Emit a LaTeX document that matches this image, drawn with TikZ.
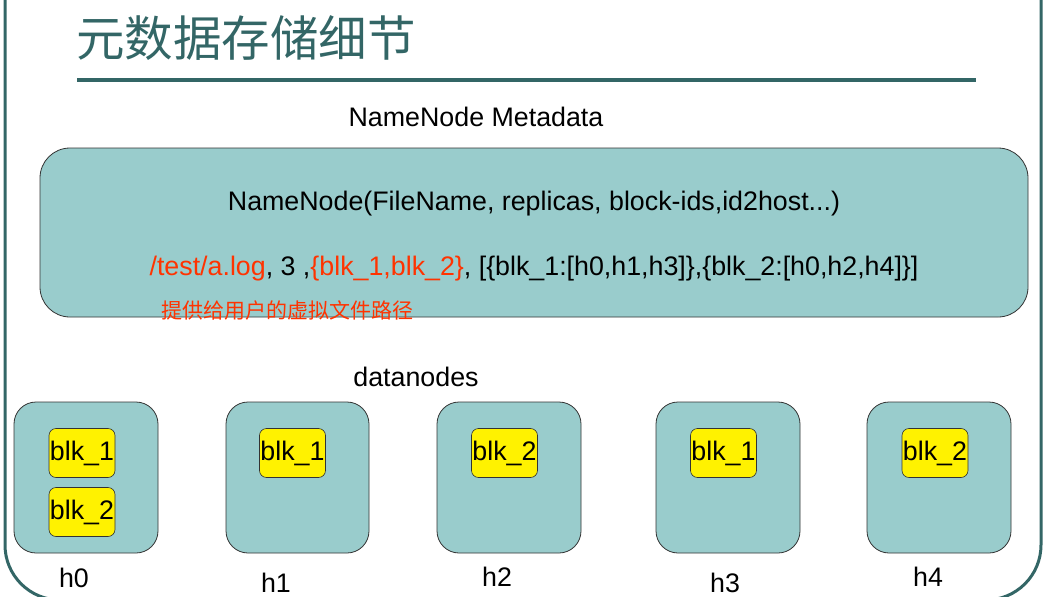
\documentclass[tikz,border=0pt]{standalone}
\usepackage{fontspec}
\setmainfont{Liberation Sans}
\newfontfamily\cjk{Noto Sans CJK SC}
\definecolor{frame}{HTML}{336666}
\definecolor{boxfill}{HTML}{99CCCC}
\definecolor{redtxt}{HTML}{FF3300}
\begin{document}
\begin{tikzpicture}[x=1pt,y=-1pt,
  txt/.style={anchor=base,inner sep=0pt,font=\fontsize{26.8}{30}\selectfont},
  bigbox/.style={draw=black!80,fill=boxfill,rounded corners=30pt,line width=0.8pt},
  dnbox/.style={draw=black!80,fill=boxfill,rounded corners=22pt,line width=0.8pt},
  blk/.style={draw=black!80,fill=yellow,rounded corners=7pt,line width=0.6pt,inner sep=0pt,minimum width=66pt,minimum height=49pt,font=\fontsize{26.8}{30}\selectfont}]
\useasboundingbox (0,0) rectangle (1053,597);
\begin{scope}
\clip (0,0) rectangle (1053,597);
\draw[frame,line width=3pt,rounded corners=55pt] (5,-20) -- (5,600) -- (1041,600) -- (1041,-20);
\end{scope}
\node[anchor=base west,inner sep=0pt,text=frame,font=\cjk\fontsize{48.5}{50}\selectfont] (title) at (76,56) {元数据存储细节};
\draw[frame,line width=4pt] (77,80) -- (976,80);
\node[txt] (meta) at (476,126) {NameNode Metadata};
\draw[bigbox] (40,148) rectangle (1028,317);
\node[txt] (l1) at (534,210) {NameNode(FileName, replicas, block-ids,id2host...)};
\node[txt] (l2) at (534,275) {\textcolor{redtxt}{/test/a.log}, 3 ,\textcolor{redtxt}{\{blk\_1,blk\_2\}}, [\{blk\_1:[h0,h1,h3]\},\{blk\_2:[h0,h2,h4]\}]};
\node[anchor=base west,inner sep=0pt,text=redtxt,font=\cjk\fontsize{21}{22}\selectfont] (note) at (161,318) {提供给用户的虚拟文件路径};
\node[txt] (dn) at (416,386) {datanodes};
\draw[dnbox] (14,402) rectangle (158,553);
\draw[dnbox] (226,402) rectangle (369,553);
\draw[dnbox] (437,402) rectangle (581,553);
\draw[dnbox] (656,402) rectangle (800,553);
\draw[dnbox] (867,402) rectangle (1011,553);
\node[blk] (b01) at (82,453) {\raisebox{-2pt}{blk\_1}};
\node[blk] (b02) at (82,512) {\raisebox{-2pt}{blk\_2}};
\node[blk] (b11) at (292.5,453) {\raisebox{-2pt}{blk\_1}};
\node[blk] (b22) at (504.5,453) {\raisebox{-2pt}{blk\_2}};
\node[blk] (b31) at (723.5,453) {\raisebox{-2pt}{blk\_1}};
\node[blk] (b42) at (935,453) {\raisebox{-2pt}{blk\_2}};
\node[txt] (h0) at (74,587) {h0};
\node[txt] (h1) at (276,592) {h1};
\node[txt] (h2) at (497,586) {h2};
\node[txt] (h3) at (725,592) {h3};
\node[txt] (h4) at (928,586) {h4};
\end{tikzpicture}
\end{document}
